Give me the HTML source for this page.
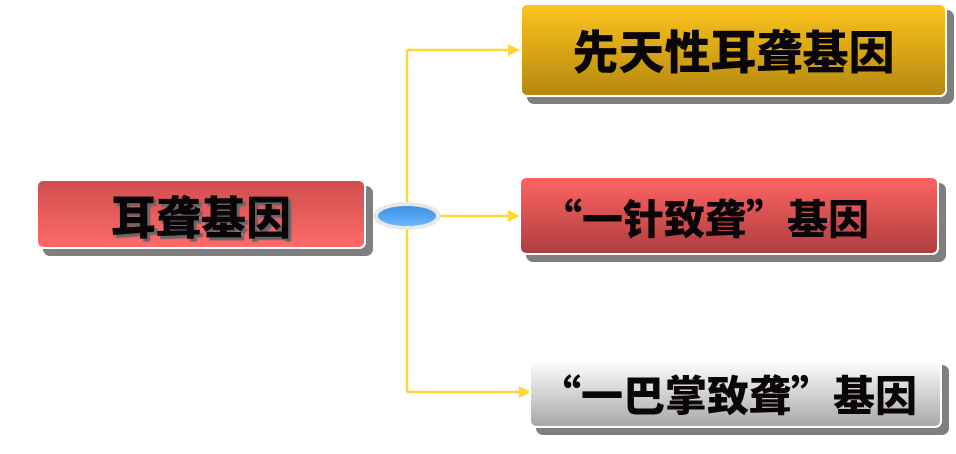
<!DOCTYPE html>
<html><head><meta charset="utf-8"><style>
body{margin:0;width:956px;height:454px;background:#fff;position:relative;overflow:hidden;font-family:"Liberation Sans","Noto Sans CJK SC",sans-serif}
.b{position:absolute;border-radius:7px;box-shadow:7px 7px 0 #7f7f7f;border:2px solid #fff;display:flex;align-items:center;justify-content:center;font-weight:900;color:#0a0508;white-space:nowrap}
.q{font-family:"Noto Sans CJK SC",sans-serif}
svg{position:absolute;left:0;top:0}
</style></head><body>
<svg width="956" height="454">
<g stroke="#fdd835" stroke-width="2.5" fill="none">
<path d="M407 50 V392"/><path d="M407 50 H510"/><path d="M437 216 H510"/><path d="M407 392 H520"/>
</g>
<g fill="#fdd835"><path d="M520 50 l-12 -6 v12z"/><path d="M520 216 l-12 -6 v12z"/><path d="M531 392 l-12 -6 v12z"/></g>
<ellipse cx="407" cy="216" rx="34" ry="14" fill="#e8e8e8"/>
<defs><linearGradient id="e" x1="0" y1="0" x2="0" y2="1"><stop offset="0" stop-color="#3d8fe0"/><stop offset="1" stop-color="#6ab8ff"/></linearGradient></defs>
<ellipse cx="407" cy="216" rx="29" ry="10" fill="url(#e)"/>
</svg>
<div class="b" style="left:36px;top:179px;width:326px;height:66px;background:linear-gradient(#cf4e4e,#ff6a6a);font-size:45px;text-shadow:3px 3px 1px #666">耳聋基因</div>
<div class="b" style="left:520px;top:3px;width:423px;height:90px;background:linear-gradient(#fcc41e,#b5880f);font-size:46px">先天性耳聋基因</div>
<div class="b" style="left:519px;top:176px;width:420px;height:79px;background:linear-gradient(#ff6464,#ad3e3e);font-size:41px;justify-content:flex-start;padding-left:20px;box-sizing:border-box"><span class="q">“</span>一针致聋<span class="q">”</span>基因</div>
<div class="b" style="left:529px;top:358px;width:413px;height:70px;background:linear-gradient(#ffffff,#a8a8a8);font-size:42px;justify-content:flex-start;padding-left:8px;box-sizing:border-box"><span class="q">“</span>一巴掌致聋<span class="q">”</span>基因</div>
</body></html>
